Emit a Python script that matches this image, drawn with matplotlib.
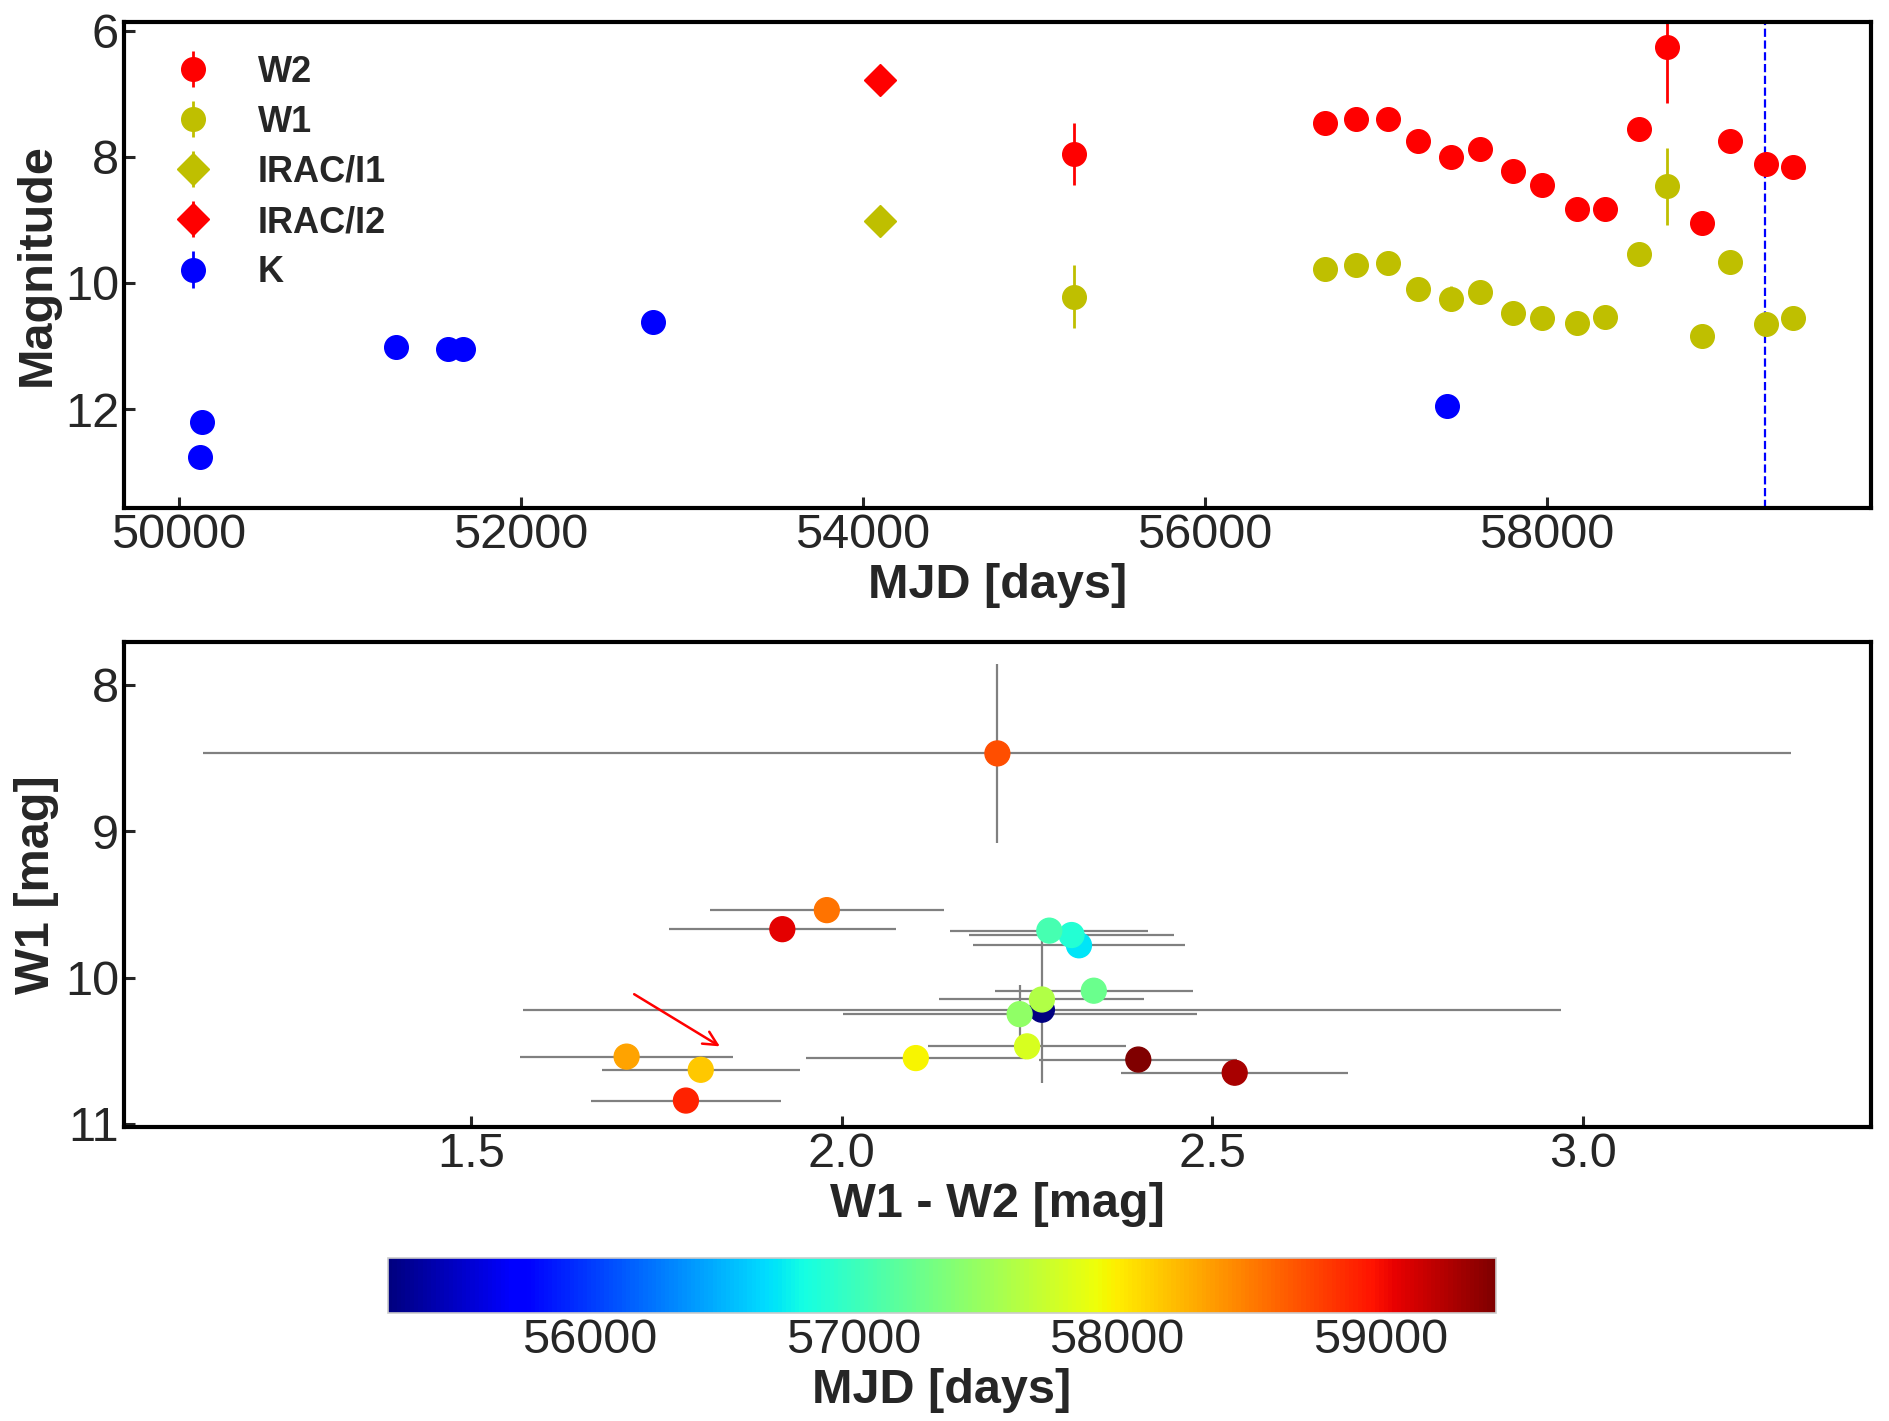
import numpy as np
import matplotlib
matplotlib.use('Agg')
import matplotlib.pyplot as plt

plt.rcParams['font.family'] = ['Liberation Sans', 'DejaVu Sans']
plt.rcParams['text.color'] = '#262626'
plt.rcParams['axes.labelcolor'] = '#262626'
plt.rcParams['xtick.color'] = '#262626'
plt.rcParams['ytick.color'] = '#262626'

# WISE (NEOWISE) epochs
wise_mjd = [55233, 56700, 56883, 57070, 57243, 57437, 57607, 57803, 57973,
            58173, 58337, 58540, 58703, 58907, 59070, 59277, 59440]
w1 = [10.22, 9.78, 9.71, 9.68, 10.09, 10.25, 10.15, 10.47, 10.55,
      10.63, 10.54, 9.54, 8.47, 10.84, 9.67, 10.65, 10.56]
w1_err = [0.50, 0.03, 0.03, 0.03, 0.03, 0.20, 0.03, 0.03, 0.03,
          0.03, 0.03, 0.03, 0.61, 0.03, 0.03, 0.03, 0.03]
w2 = [7.95, 7.46, 7.40, 7.40, 7.75, 8.01, 7.88, 8.22, 8.45,
      8.82, 8.83, 7.56, 6.26, 9.05, 7.75, 8.12, 8.16]
w2_err = [0.49, 0.14, 0.135, 0.13, 0.13, 0.13, 0.135, 0.13, 0.145,
          0.13, 0.14, 0.155, 0.88, 0.125, 0.15, 0.15, 0.13]

# Spitzer IRAC
irac_mjd = [54101]
i1 = [9.01]
i1_err = [0.02]
i2 = [6.79]
i2_err = [0.02]

# K band
k_mjd = [50135, 50125, 51270, 51573, 51659, 52772, 57417]
k_mag = [12.20, 12.76, 11.01, 11.04, 11.04, 10.62, 11.95]
k_err = [0.04, 0.04, 0.03, 0.03, 0.03, 0.03, 0.03]

event_mjd = 59275

# colour and error of W1 - W2
w1 = np.array(w1)
w2 = np.array(w2)
colour = w1 - w2
colour_err = np.sqrt(np.array(w1_err)**2 + np.array(w2_err)**2)

tick_fs = 35
label_fs = 35

fig = plt.figure(figsize=(18.89, 14.21), dpi=100)
ax1 = fig.add_axes([0.0656, 0.6425, 0.9248, 0.342])
ax2 = fig.add_axes([0.0656, 0.2069, 0.9248, 0.3413])
cax = fig.add_axes([0.2054, 0.0760, 0.5866, 0.0387])

ms = 17
h_w2 = ax1.errorbar(wise_mjd, w2, yerr=w2_err, fmt='o', color='r', ms=ms, elinewidth=2, label='W2')
h_w1 = ax1.errorbar(wise_mjd, w1, yerr=w1_err, fmt='o', color='y', ms=ms, elinewidth=2, label='W1')
h_i1 = ax1.errorbar(irac_mjd, i1, yerr=i1_err, fmt='D', color='y', ms=16, elinewidth=2, label='IRAC/I1')
h_i2 = ax1.errorbar(irac_mjd, i2, yerr=i2_err, fmt='D', color='r', ms=16, elinewidth=2, label='IRAC/I2')
h_k = ax1.errorbar(k_mjd, k_mag, yerr=k_err, fmt='o', color='b', ms=ms, elinewidth=2, label='K')
ax1.axvline(event_mjd, color='b', ls='--', lw=1.6)

ax1.set_xlim(49679, 59893)
ax1.set_ylim(13.566, 5.864)
ax1.set_xticks([50000, 52000, 54000, 56000, 58000])
ax1.set_yticks([6, 8, 10, 12])
ax1.set_xlabel('MJD [days]', fontsize=label_fs, fontweight='bold')
ax1.set_ylabel('Magnitude', fontsize=label_fs, fontweight='bold')
ax1.legend(handles=[h_w2, h_w1, h_i1, h_i2, h_k], loc='upper left', frameon=False,
           prop={'weight': 'bold', 'size': 26}, labelspacing=0.42)

# colour-magnitude diagram
ax2.errorbar(colour, w1, xerr=colour_err, yerr=w1_err, fmt='none', ecolor='grey', elinewidth=1.6, zorder=1)
sc = ax2.scatter(colour, w1, c=wise_mjd, cmap='jet', s=320, zorder=3)
ax2.annotate('', xy=(1.839, 10.48), xytext=(1.717, 10.104),
             arrowprops=dict(arrowstyle='->', color='r', lw=1.8, mutation_scale=25))
ax2.invert_yaxis()
ax2.set_xticks([1.5, 2.0, 2.5, 3.0])
ax2.set_yticks([8, 9, 10, 11])
ax2.set_xlabel('W1 - W2 [mag]', fontsize=label_fs, fontweight='bold')
ax2.set_ylabel('W1 [mag]', fontsize=label_fs, fontweight='bold')

for ax in [ax1, ax2]:
    ax.tick_params(direction='in', length=8, width=2.2, labelsize=tick_fs, top=False, right=False)
    for sp in ax.spines.values():
        sp.set_linewidth(3)
        sp.set_color('black')

cbar = fig.colorbar(sc, cax=cax, orientation='horizontal')
cbar.set_ticks([56000, 57000, 58000, 59000])
cbar.ax.tick_params(length=0, labelsize=tick_fs)
cbar.outline.set_edgecolor('#cccccc')
cbar.outline.set_linewidth(1.2)
cbar.set_label('MJD [days]', fontsize=label_fs, fontweight='bold')

fig.savefig('out.png', dpi=100)
